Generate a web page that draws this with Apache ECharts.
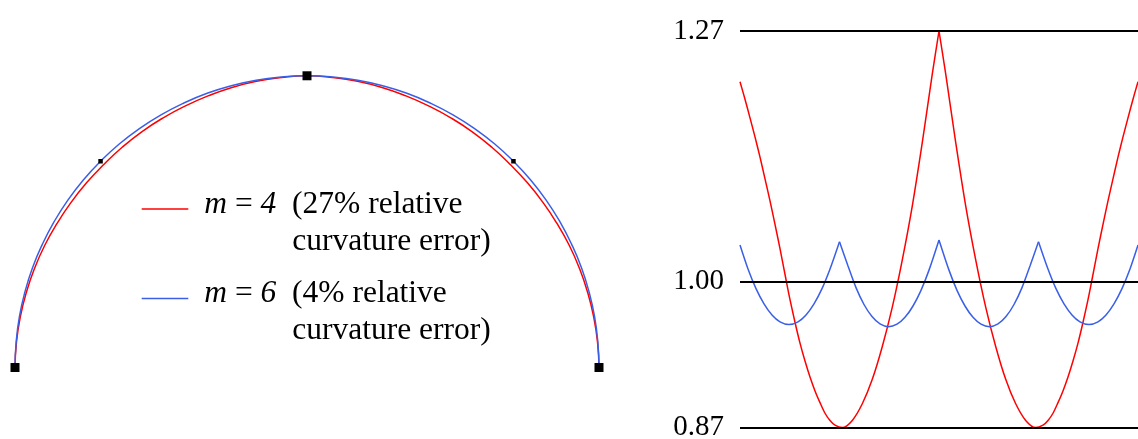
<!DOCTYPE html>
<html>
<head>
<meta charset="utf-8">
<script src="https://cdn.jsdelivr.net/npm/echarts@6/dist/echarts.min.js"></script>
<style>
  html, body { margin: 0; padding: 0; background: #fff; }
  #chart { width: 1138px; height: 439px; }
</style>
</head>
<body>
<div id="chart"></div>
<script>
// Approximating curves of the unit semicircle, traced left end -> top -> right end (x, y)
const arcM4 = [
  [-1.000, 0.000], [-0.995, 0.087], [-0.982, 0.173], [-0.961, 0.258], [-0.933, 0.340],
  [-0.898, 0.419], [-0.856, 0.494], [-0.808, 0.566], [-0.755, 0.633], [-0.696, 0.696],
  [-0.633, 0.755], [-0.566, 0.808], [-0.494, 0.855], [-0.418, 0.896], [-0.339, 0.931],
  [-0.257, 0.960], [-0.173, 0.981], [-0.087, 0.994], [0.000, 1.000],
  [0.087, 0.994], [0.173, 0.981], [0.257, 0.960], [0.339, 0.931], [0.418, 0.896],
  [0.494, 0.855], [0.566, 0.808], [0.633, 0.755], [0.696, 0.696], [0.755, 0.633],
  [0.808, 0.566], [0.856, 0.494], [0.898, 0.419], [0.933, 0.340], [0.961, 0.258],
  [0.982, 0.173], [0.995, 0.087], [1.000, 0.000]
];
const arcM6 = [
  [-1.000, 0.000], [-0.996, 0.087], [-0.985, 0.174], [-0.966, 0.259], [-0.940, 0.342],
  [-0.906, 0.423], [-0.866, 0.500], [-0.819, 0.574], [-0.766, 0.643], [-0.707, 0.707],
  [-0.643, 0.766], [-0.574, 0.819], [-0.500, 0.866], [-0.423, 0.906], [-0.342, 0.940],
  [-0.259, 0.966], [-0.174, 0.985], [-0.087, 0.996], [0.000, 1.000],
  [0.087, 0.996], [0.174, 0.985], [0.259, 0.966], [0.342, 0.940], [0.423, 0.906],
  [0.500, 0.866], [0.574, 0.819], [0.643, 0.766], [0.707, 0.707], [0.766, 0.643],
  [0.819, 0.574], [0.866, 0.500], [0.906, 0.423], [0.940, 0.342], [0.966, 0.259],
  [0.985, 0.174], [0.996, 0.087], [1.000, 0.000]
];
// Segment joints on the arc
const jointsMajor = [[-1, 0], [0, 1], [1, 0]];
const jointsMinor = [[-0.707, 0.707], [0.707, 0.707]];

// Relative curvature along the arc: [angle in degrees, curvature / circle curvature]
const curvM4Seg1 = [
  [0, 1.210], [2.26, 1.190], [4.52, 1.169], [6.78, 1.148], [9.05, 1.126], [11.31, 1.103],
  [13.57, 1.080], [15.83, 1.056], [18.09, 1.032], [20.80, 1.002], [22.61, 0.983], [24.87, 0.962],
  [27.14, 0.943], [29.40, 0.927], [31.66, 0.913], [33.92, 0.901], [36.18, 0.891], [38.44, 0.882],
  [40.70, 0.876], [42.97, 0.872], [46.27, 0.870], [50.79, 0.876], [55.31, 0.890], [59.83, 0.911],
  [64.36, 0.940], [68.88, 0.976], [73.40, 1.021], [77.93, 1.075], [82.45, 1.142], [86.97, 1.219],
  [90, 1.270]
];
const curvM4Seg2 = [
  [90, 1.270], [93.03, 1.219], [97.55, 1.142], [102.07, 1.075], [106.60, 1.021], [111.12, 0.976],
  [115.64, 0.940], [120.17, 0.911], [124.69, 0.890], [129.21, 0.876], [133.73, 0.870], [137.03, 0.872],
  [139.30, 0.876], [141.56, 0.882], [143.82, 0.891], [146.08, 0.901], [148.34, 0.913], [150.60, 0.927],
  [152.86, 0.943], [155.13, 0.962], [157.39, 0.983], [159.20, 1.002], [161.91, 1.032], [164.17, 1.056],
  [166.43, 1.080], [168.69, 1.103], [170.95, 1.126], [173.22, 1.148], [175.48, 1.169], [177.74, 1.190],
  [180, 1.210]
];
const curvM6Seg1 = [
  [0, 1.0355], [3.62, 1.0121], [7.24, 0.9933], [10.86, 0.9790], [14.47, 0.9687], [18.09, 0.9624],
  [22.16, 0.9599], [26.24, 0.9624], [29.86, 0.9687], [33.47, 0.9790], [37.09, 0.9933], [40.71, 1.0121],
  [45, 1.0388]
];
const curvM6Seg2 = [
  [45, 1.0388], [48.85, 1.0150], [52.46, 0.9943], [56.08, 0.9784], [59.70, 0.9672], [63.32, 0.9604],
  [67.16, 0.9579], [71.00, 0.9602], [74.62, 0.9665], [78.24, 0.9770], [81.86, 0.9917], [85.48, 1.0110],
  [90, 1.0405]
];
const curvM6Seg3 = [
  [90, 1.0405], [94.52, 1.0110], [98.14, 0.9917], [101.76, 0.9770], [105.38, 0.9665], [109.00, 0.9602],
  [112.84, 0.9579], [116.68, 0.9604], [120.30, 0.9672], [123.92, 0.9784], [127.54, 0.9943], [131.15, 1.0150],
  [135, 1.0388]
];
const curvM6Seg4 = [
  [135, 1.0388], [139.29, 1.0121], [142.91, 0.9933], [146.53, 0.9790], [150.14, 0.9687], [153.76, 0.9624],
  [157.84, 0.9599], [161.91, 0.9624], [165.53, 0.9687], [169.14, 0.9790], [172.76, 0.9933], [176.38, 1.0121],
  [180, 1.0355]
];
// Reference levels of the curvature plot
const levelValues = [1.27, 1.00, 0.87];

const seriesNames = ['m = 4', 'm = 6'];
const legendLines = {
  'm = 4': '{i|m} = {i|4}  (27% relative\n{pad|}curvature error)',
  'm = 6': '{i|m} = {i|6}  (4% relative\n{pad|}curvature error)'
};

const RED = '#ff0000';
const BLUE = '#3a5fe6';
const SERIF = '"Liberation Serif", "DejaVu Serif", serif';

const hiddenAxis = {
  axisLine: { show: false }, axisTick: { show: false },
  axisLabel: { show: false }, splitLine: { show: false }
};

function curve(name, data, color, xi, smooth) {
  return {
    type: 'line', name, data, xAxisIndex: xi, yAxisIndex: xi,
    symbol: 'none', smooth,
    lineStyle: { color, width: 1.5 }, itemStyle: { color },
    silent: true, z: 3
  };
}

function legendFor(name, top) {
  return {
    data: [name], left: 141.7, top, orient: 'vertical', padding: 0,
    icon: 'rect', itemWidth: 46.6, itemHeight: 1.5, selectedMode: false,
    textStyle: {
      fontFamily: SERIF, fontSize: 31.5, lineHeight: 37, color: '#000',
      padding: [28, 0, 0, 11],
      rich: {
        i: { fontFamily: SERIF, fontSize: 31.5, lineHeight: 37, fontStyle: 'italic' },
        pad: { width: 88, lineHeight: 37 }
      }
    },
    formatter: n => legendLines[n]
  };
}

const chart = echarts.init(document.getElementById('chart'), null, { renderer: 'canvas' });
chart.setOption({
  animation: false,
  backgroundColor: '#fff',
  grid: [
    { left: 0.4, top: 46.6, width: 613.2, height: 350.1 },
    { left: 740, top: 0, width: 398, height: 439 }
  ],
  xAxis: [
    Object.assign({ type: 'value', gridIndex: 0, min: -1.05, max: 1.05 }, hiddenAxis),
    Object.assign({ type: 'value', gridIndex: 1, min: 0, max: 180 }, hiddenAxis)
  ],
  yAxis: [
    Object.assign({ type: 'value', gridIndex: 0, min: -0.1, max: 1.1 }, hiddenAxis),
    Object.assign({ type: 'log', gridIndex: 1, min: 0.8606, max: 1.3081 }, hiddenAxis)
  ],
  legend: [legendFor(seriesNames[0], 158), legendFor(seriesNames[1], 247.5)],
  series: [
    curve(seriesNames[0], arcM4, RED, 0, 0.5),
    curve(seriesNames[1], arcM6, BLUE, 0, 0.5),
    {
      type: 'scatter', data: jointsMajor, xAxisIndex: 0, yAxisIndex: 0,
      symbol: 'rect', symbolSize: 9, itemStyle: { color: '#000', opacity: 1 }, silent: true, z: 5
    },
    {
      type: 'scatter', data: jointsMinor, xAxisIndex: 0, yAxisIndex: 0,
      symbol: 'rect', symbolSize: 4.5, itemStyle: { color: '#000', opacity: 1 }, silent: true, z: 5
    },
    {
      type: 'line', name: 'levels', data: [], xAxisIndex: 1, yAxisIndex: 1, silent: true,
      markLine: {
        silent: true, symbol: 'none', animation: false,
        lineStyle: { color: '#000', width: 1.8, type: 'solid' },
        label: {
          position: 'start', distance: 16, color: '#000',
          fontFamily: SERIF, fontSize: 29,
          formatter: p => Number(p.value).toFixed(2)
        },
        emphasis: { disabled: true },
        data: levelValues.map(v => ({ yAxis: v }))
      },
      z: 2
    },
    curve(seriesNames[0], curvM4Seg1, RED, 1, 0.3),
    curve(seriesNames[0], curvM4Seg2, RED, 1, 0.3),
    curve(seriesNames[1], curvM6Seg1, BLUE, 1, 0.3),
    curve(seriesNames[1], curvM6Seg2, BLUE, 1, 0.3),
    curve(seriesNames[1], curvM6Seg3, BLUE, 1, 0.3),
    curve(seriesNames[1], curvM6Seg4, BLUE, 1, 0.3)
  ]
});
</script>
</body>
</html>
